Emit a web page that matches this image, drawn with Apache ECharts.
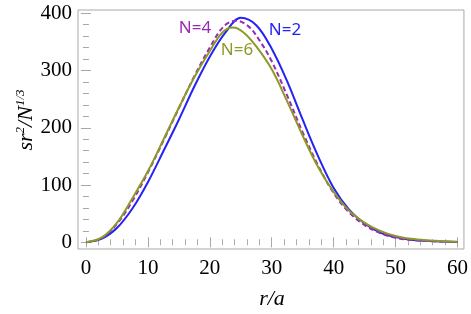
<!DOCTYPE html>
<html><head><meta charset="utf-8">
<script src="https://cdn.jsdelivr.net/npm/echarts@6/dist/echarts.min.js"></script>
<style>html,body{margin:0;padding:0;background:#fff}#c{width:471px;height:314px}</style>
</head><body><div id="c"></div>
<script>
const rN2 = [0,2.5,5,7.5,10,12.5,15,17.5,20,22.5,25,27.5,30,32.5,35,37.5,40,42.5,45,47.5,50,52.5,55,57.5,60];
const n2Values = [0,6,25,59,105,159,214,272,324,366,392,379,338,281,214,150,95,57,33,17,9,4.5,2.5,1.2,0.5];
const rN4 = [0,2.5,5,7.5,10,12.5,15,17.5,20,22.25,24.25,26.25,28,30,32.5,35,37.5,40,42.5,45,47.5,50,52.5,55,57.5,60];
const n4Values = [0,7,32,72,122,177,234,290,340,377,387,377,353,316,256,192,134,86,52,30,16,8,4,2.3,1.1,0.6];
const rN6 = [0,2.5,5,7.5,10,12.5,15,17.5,20,22,23.75,25.5,27.5,30,32.5,35,37.5,40,42.5,45,47.5,50,52.5,55,57.5,60];
const n6Values = [0,8,34,77,124,179,235,288,334,366,375,366,342,302,246,186,131,88,55,34,20,11,6,3.4,2,1];
const xTicks = [0,10,20,30,40,50,60];
const xMinor = [0,2,4,6,8,10,12,14,16,18,20,22,24,26,28,30,32,34,36,38,40,42,44,46,48,50,52,54,56,58,60];
const yTicks = [0,100,200,300,400];
const yMinor = [0,20,40,60,80,100,120,140,160,180,200,220,240,260,280,300,320,340,360,380,400];
const seriesNames = ['N=2','N=4','N=6'];

const XMIN=-1.285, XMAX=61.04, YMIN=-11.7, YMAX=405.6;
const frameColor='#a8a8a8';
const blue='#2323f5', purple='#9a2bb3', olive='#8c9a26';
const tickRich = {t:{fontFamily:'Liberation Serif', fontSize:21, fill:'#000', color:'#000'}};

function xAx(pos, ticks, len, labels){
  return {type:'value', min:XMIN, max:XMAX, position:pos,
    axisLine:{show:false}, splitLine:{show:false},
    axisTick:{show:true, inside:true, length:len, customValues:ticks, lineStyle:{color:frameColor,width:1}},
    axisLabel: labels ? {show:true, customValues:ticks, formatter:v=>'{t|'+v+'}', rich:tickRich, margin:9} : {show:false}};
}
function yAx(pos, ticks, len, labels){
  return {type:'value', min:YMIN, max:YMAX, position:pos,
    axisLine:{show:false}, splitLine:{show:false},
    axisTick:{show:true, inside:true, length:len, customValues:ticks, lineStyle:{color:frameColor,width:1}},
    axisLabel: labels ? {show:true, customValues:ticks, formatter:v=>'{t|'+v+'}', rich:tickRich, margin:6} : {show:false}};
}
function pts(rs, vals){ return rs.map((r,i)=>[r,vals[i]]); }

const chart = echarts.init(document.getElementById('c'));
chart.setOption({
  animation:false,
  grid:{left:78, right:5, top:10, bottom:65, show:true, borderColor:frameColor, borderWidth:1, backgroundColor:'transparent'},
  xAxis:[xAx('bottom',xTicks,5,true), xAx('bottom',xMinor,3,false), xAx('top',xTicks,5,false), xAx('top',xMinor,3,false)],
  yAxis:[yAx('left',yTicks,5,true), yAx('left',yMinor,3,false), yAx('right',yTicks,5,false), yAx('right',yMinor,3,false)],
  series:[
    {name:seriesNames[0], type:'line', data:pts(rN2,n2Values), showSymbol:false, smooth:0.35, lineStyle:{color:blue,width:2}},
    {name:seriesNames[1], type:'line', data:pts(rN4,n4Values), showSymbol:false, smooth:0.35, lineStyle:{color:purple,width:2,type:[5,3]}},
    {name:seriesNames[2], type:'line', data:pts(rN6,n6Values), showSymbol:false, smooth:0.35, lineStyle:{color:olive,width:2}}
  ],
  graphic:[
    {type:'text', x:285, y:30, style:{text:seriesNames[0], fill:blue, font:'17px "Noto Sans"', align:'center', verticalAlign:'middle'}},
    {type:'text', x:195, y:28, style:{text:seriesNames[1], fill:purple, font:'17px "Noto Sans"', align:'center', verticalAlign:'middle'}},
    {type:'text', x:237, y:50, style:{text:seriesNames[2], fill:olive, font:'17px "Noto Sans"', align:'center', verticalAlign:'middle'}},
    {type:'text', x:272, y:299, style:{text:'r/a', fill:'#000', font:'italic 22px "Liberation Serif"', align:'center', verticalAlign:'middle'}},
    {type:'text', x:26, y:120, rotation:Math.PI/2, style:{
      text:'{a|sr}{s|2}{a|/N}{s|1/3}', align:'center', verticalAlign:'middle',
      rich:{a:{fontFamily:'Liberation Serif', fontStyle:'italic', fontSize:22, fill:'#000', lineHeight:24},
            s:{fontFamily:'Liberation Serif', fontStyle:'italic', fontSize:13, fill:'#000', verticalAlign:'top', lineHeight:24}}}}
  ]
});
</script></body></html>
